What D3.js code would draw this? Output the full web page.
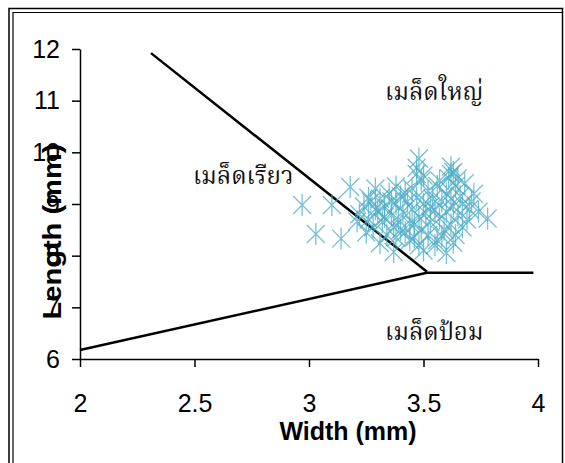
<!DOCTYPE html>
<html>
<head>
<meta charset="utf-8">
<script src="https://cdn.jsdelivr.net/npm/d3@7"></script>
<style>
  body { margin: 0; background: #fff; }
  svg { display: block; }
  .tick text { font-family: "Liberation Sans", Arial, sans-serif; font-size: 25px; fill: #000; }
  .tick line, .domain { stroke: #000; stroke-width: 1.5; }
</style>
</head>
<body>
<svg width="565" height="463"></svg>
<script>
const svg = d3.select('svg');

// tick values
const xTicks = [2, 2.5, 3, 3.5, 4];
const yTicks = [6, 7, 8, 9, 10, 11, 12];

// seed measurements: width (mm), length (mm)
const seedWidth = [2.97, 3.10, 3.03, 3.14, 3.18, 3.21, 3.25, 3.29, 3.31, 3.37, 3.38, 3.48, 3.47, 3.62, 3.63, 3.60, 3.72, 3.78, 3.74,
  3.22, 3.24, 3.26, 3.27, 3.28, 3.30, 3.31, 3.32, 3.33, 3.34, 3.35, 3.36, 3.37, 3.38, 3.39, 3.40, 3.41, 3.42, 3.43, 3.44,
  3.45, 3.45, 3.46, 3.47, 3.48, 3.49, 3.49, 3.50, 3.51, 3.52, 3.52, 3.53, 3.54, 3.55, 3.56, 3.56, 3.57, 3.58, 3.59, 3.60,
  3.60, 3.61, 3.62, 3.62, 3.63, 3.64, 3.64, 3.65, 3.66, 3.67, 3.67, 3.68, 3.69, 3.70, 3.71, 3.38, 3.42, 3.46, 3.50, 3.53,
  3.57, 3.33, 3.36, 3.40, 3.44, 3.48, 3.55, 3.58, 3.63, 3.29, 3.26, 3.47, 3.62, 3.65, 3.50];
const seedLength = [8.98, 8.98, 8.42, 8.33, 9.33, 8.66, 8.45, 9.30, 8.24, 8.07, 9.34, 9.88, 9.70, 9.72, 9.62, 8.05, 9.20, 8.72, 8.85,
  8.80, 8.95, 8.70, 9.05, 8.55, 8.85, 9.10, 8.65, 8.95, 8.40, 9.20, 8.78, 8.55, 9.00, 8.70, 9.15, 8.85, 8.45, 9.05, 8.62,
  9.30, 8.90, 8.35, 9.12, 8.75, 9.45, 8.50, 9.00, 8.82, 9.25, 8.40, 8.65, 9.10, 8.88, 8.30, 9.35, 8.72, 9.05, 8.50, 9.20,
  8.85, 9.50, 8.60, 9.10, 8.95, 9.35, 8.40, 8.78, 9.15, 8.55, 9.00, 9.40, 8.70, 8.90, 9.05, 8.35, 9.22, 8.60, 9.55, 8.95,
  9.45, 8.75, 9.05, 8.50, 8.30, 8.20, 8.20, 8.38, 8.25, 8.90, 9.12, 9.58, 9.58, 9.50, 8.10];

// class boundaries
const boundaryA = [[2.31, 11.92], [3.515, 7.69]];
const boundaryB = [[2, 6.175], [3.515, 7.67], [3.98, 7.67]];

// region labels
const regionNames = ['เมล็ดใหญ่', 'เมล็ดเรียว', 'เมล็ดป้อม'];
const regionAt = [[3.332, 11.01], [2.493, 9.39], [3.332, 6.37]];

const xScale = d3.scaleLinear().domain([2, 4]).range([80, 538]);
const yScale = d3.scaleLinear().domain([6, 12]).range([359, 49]);

// frame
svg.append('rect')
  .attr('x', 9).attr('y', 8.5).attr('width', 553.5).attr('height', 470)
  .attr('fill', 'none').attr('stroke', '#000').attr('stroke-width', 1.5);
svg.append('path')
  .attr('d', 'M13,470V12.5H562')
  .attr('fill', 'none').attr('stroke', '#000').attr('stroke-width', 1.2);

// axes
svg.append('g')
  .attr('transform', `translate(0,${yScale(6)})`)
  .call(d3.axisBottom(xScale).tickValues(xTicks).tickSize(8).tickPadding(27).tickSizeOuter(0)
    .tickFormat(d3.format('')));

svg.append('g')
  .attr('transform', `translate(${xScale(2)},0)`)
  .call(d3.axisLeft(yScale).tickValues(yTicks).tickSize(8).tickPadding(12).tickSizeOuter(0)
    .tickFormat(d3.format('d')));

svg.append('text')
  .attr('x', 348).attr('y', 440)
  .attr('text-anchor', 'middle')
  .attr('font-family', '"Liberation Sans", Arial, sans-serif')
  .attr('font-size', 25).attr('font-weight', 'bold')
  .text('Width (mm)');

svg.append('text')
  .attr('transform', 'translate(61,231.5) rotate(-90)')
  .attr('text-anchor', 'middle')
  .attr('font-family', '"Liberation Sans", Arial, sans-serif')
  .attr('font-size', 25).attr('font-weight', 'bold')
  .attr('textLength', 176).attr('lengthAdjust', 'spacingAndGlyphs')
  .text('Length (mm)');

// boundary lines
const line = d3.line().x(d => xScale(d[0])).y(d => yScale(d[1]));
[boundaryA, boundaryB].forEach(b => {
  svg.append('path')
    .attr('d', line(b))
    .attr('fill', 'none')
    .attr('stroke', '#000')
    .attr('stroke-width', 2.5)
    .attr('stroke-linejoin', 'round');
});

// asterisk markers
const seeds = seedWidth.map((w, i) => ({ w: w, l: seedLength[i] }));
const star = 'M-9,-9L9,9M-9,9L9,-9M0,-11V11';
svg.append('g')
  .selectAll('path')
  .data(seeds)
  .join('path')
    .attr('transform', d => `translate(${xScale(d.w)},${yScale(d.l)})`)
    .attr('d', star)
    .attr('fill', 'none')
    .attr('stroke', '#4bacc6')
    .attr('stroke-opacity', 0.75)
    .attr('stroke-width', 1.3);

// region labels
svg.append('g')
  .selectAll('text')
  .data(regionNames)
  .join('text')
    .attr('x', (d, i) => xScale(regionAt[i][0]))
    .attr('y', (d, i) => yScale(regionAt[i][1]))
    .attr('font-family', '"Noto Serif Thai", "Noto Sans Thai", Kinnari, Norasi, Loma, Garuda, serif')
    .attr('font-size', 24)
    .attr('fill', '#111')
    .text(d => d);
</script>
</body>
</html>
